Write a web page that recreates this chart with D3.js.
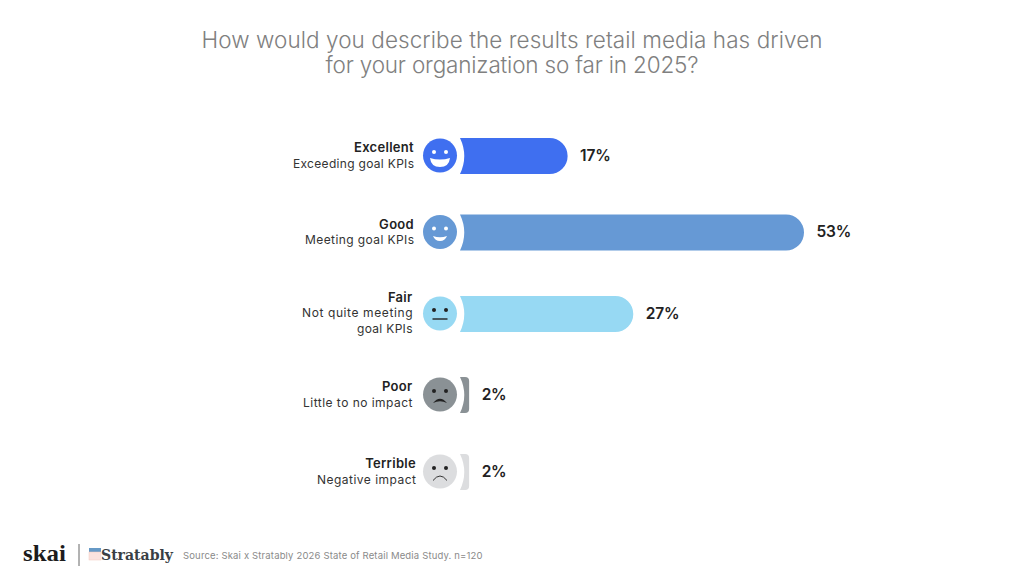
<!DOCTYPE html>
<html>
<head>
<meta charset="utf-8">
<script src="https://cdn.jsdelivr.net/npm/d3@7"></script>
<style>
    html, body { margin: 0; padding: 0; background: #fff; }
    text { font-family: Inter, "Open Sans", sans-serif; }
</style>
</head>
<body>
<script>
// chart data
var categories = ['Excellent', 'Good', 'Fair', 'Poor', 'Terrible'];
var subLabels = [['Exceeding goal KPIs'], ['Meeting goal KPIs'], ['Not quite meeting', 'goal KPIs'], ['Little to no impact'], ['Negative impact']];
var values = [17, 53, 27, 2, 2];
var titleLines = ['How would you describe the results retail media has driven', 'for your organization so far in 2025?'];
var sourceText = 'Source: Skai x Stratably 2026 State of Retail Media Study. n=120';

var barColors = ['#3f6ff0', '#6699d5', '#97d9f3', '#8a9195', '#dcdddf'];
var rowCenters = [156, 232.5, 314, 395, 472];
var labelEdges = [414, 414, 412.5, 412.5, 416];
var titleWidths = [621, 373];
var subWidths = [[121], [109], [110.5, 55.5], [109.5], [99]];

var width = 1024, height = 576;
var svg = d3.select('body').append('svg').attr('width', width).attr('height', height);

var x = d3.scaleLinear().domain([0, 53]).range([456, 804]);
var y = d3.scaleOrdinal(categories, rowCenters);
var color = d3.scaleOrdinal(categories, barColors);
var labelX = d3.scaleOrdinal(categories, labelEdges);

var barH = 36, barLeft = 460, faceX = 440, faceR = 17;

// title
svg.append('g').selectAll('text').data(titleLines).enter().append('text')
    .attr('x', 512).attr('y', function (d, i) { return 48 + i * 25; })
    .attr('text-anchor', 'middle')
    .attr('font-size', 22.5).attr('font-weight', 300).attr('fill', '#808080')
    .attr('textLength', function (d, i) { return titleWidths[i]; })
    .attr('lengthAdjust', 'spacing')
    .text(function (d) { return d; });

// bar with the concave left side, right corners go smaller on tiny bars
function barPath(v, cy) {
    var x1 = x(v), top = cy - barH / 2, bot = cy + barH / 2;
    var r = Math.min(barH / 2, (x1 - barLeft) * 0.45);
    return 'M' + barLeft + ',' + top +
        'L' + (x1 - r) + ',' + top +
        'A' + r + ',' + r + ' 0 0 1 ' + x1 + ',' + (top + r) +
        'L' + x1 + ',' + (bot - r) +
        'A' + r + ',' + r + ' 0 0 1 ' + (x1 - r) + ',' + bot +
        'L' + barLeft + ',' + bot +
        'A42,42 0 0 0 ' + barLeft + ',' + top + 'Z';
}

var rows = svg.append('g').selectAll('g').data(categories).enter().append('g');

rows.append('path')
    .attr('d', function (d, i) { return barPath(values[i], y(d)); })
    .attr('fill', function (d) { return color(d); });

rows.append('text')
    .attr('x', function (d, i) { return x(values[i]) + 12.5; })
    .attr('y', function (d) { return y(d) + 4.5; })
    .attr('font-size', 15.5).attr('font-weight', 600).attr('fill', '#222')
    .style('letter-spacing', '-0.2px')
    .text(function (d, i) { return values[i] + '%'; });

// category + description labels
rows.each(function (d, i) {
    var g = d3.select(this);
    var lines = subLabels[i];
    var top = y(d) + (lines.length > 1 ? -12.5 : -4);
    g.append('text')
        .attr('x', labelX(d)).attr('y', top)
        .attr('text-anchor', 'end')
        .attr('font-size', 13).attr('font-weight', 600).attr('fill', '#222')
        .style('letter-spacing', '0.3px')
        .text(d);
    lines.forEach(function (t, j) {
        g.append('text')
            .attr('x', labelX(d)).attr('y', top + 15.5 + j * 16)
            .attr('text-anchor', 'end')
            .attr('font-size', 12).attr('font-weight', 400).attr('fill', '#333')
            .attr('textLength', subWidths[i][j])
            .attr('lengthAdjust', 'spacing')
            .text(t);
    });
});

// faces
var eyeColor = ['#fff', '#fff', '#222', '#222', '#222'];
rows.each(function (d, i) {
    var g = d3.select(this).append('g').attr('transform', 'translate(' + faceX + ',' + (y(d) - 0.5) + ')');
    g.append('circle').attr('r', faceR).attr('fill', color(d));
    [-6, 6].forEach(function (ex) {
        g.append('circle').attr('cx', ex).attr('cy', -3.5).attr('r', 2).attr('fill', eyeColor[i]);
    });
    if (i == 0) {
        g.append('path').attr('d', 'M-10,2.5Q0,5.5 10,2.5Q9,11.5 0,11.5Q-9,11.5 -10,2.5Z').attr('fill', '#fff');
    } else if (i == 1) {
        g.append('path').attr('d', 'M-7,4Q0,6.5 7,4Q5,9 0,9Q-5,9 -7,4Z').attr('fill', '#fff');
    } else if (i == 2) {
        g.append('line').attr('x1', -7.5).attr('x2', 7.5).attr('y1', 5.5).attr('y2', 5.5).attr('stroke', '#222').attr('stroke-width', 1.4);
    } else if (i == 3) {
        g.append('path').attr('d', 'M-7,8.5Q0,0 7,8.5Q0,5 -7,8.5Z').attr('fill', '#222');
    } else {
        g.append('path').attr('d', 'M-7,9Q0,0 7,9').attr('fill', 'none').attr('stroke', '#333').attr('stroke-width', 1);
    }
});

// footer logos + source
var foot = svg.append('g');
foot.append('text').attr('x', 23).attr('y', 561)
    .style('font-family', '"Liberation Serif", serif').attr('font-size', 24).attr('font-weight', 700)
    .attr('fill', '#1c1c1c').attr('textLength', 43).attr('lengthAdjust', 'spacingAndGlyphs').text('skai');
foot.append('line').attr('x1', 79).attr('x2', 79).attr('y1', 544).attr('y2', 566).attr('stroke', '#666').attr('stroke-width', 1);
foot.append('rect').attr('x', 89).attr('y', 548).attr('width', 12).attr('height', 4).attr('fill', '#6699c6');
foot.append('rect').attr('x', 89).attr('y', 552).attr('width', 12).attr('height', 8).attr('fill', '#fbe3df').attr('stroke', '#f2c9c0').attr('stroke-width', 0.5);
foot.append('text').attr('x', 101).attr('y', 560)
    .style('font-family', '"DejaVu Serif", serif').attr('font-size', 15).attr('font-weight', 700)
    .attr('fill', '#3a3f45').attr('textLength', 72).attr('lengthAdjust', 'spacingAndGlyphs').text('Stratably');
foot.append('text').attr('x', 183).attr('y', 559)
    .attr('font-size', 9.5).attr('fill', '#8a8a8a').style('letter-spacing', '0.16px').text(sourceText);
</script>
</body>
</html>
